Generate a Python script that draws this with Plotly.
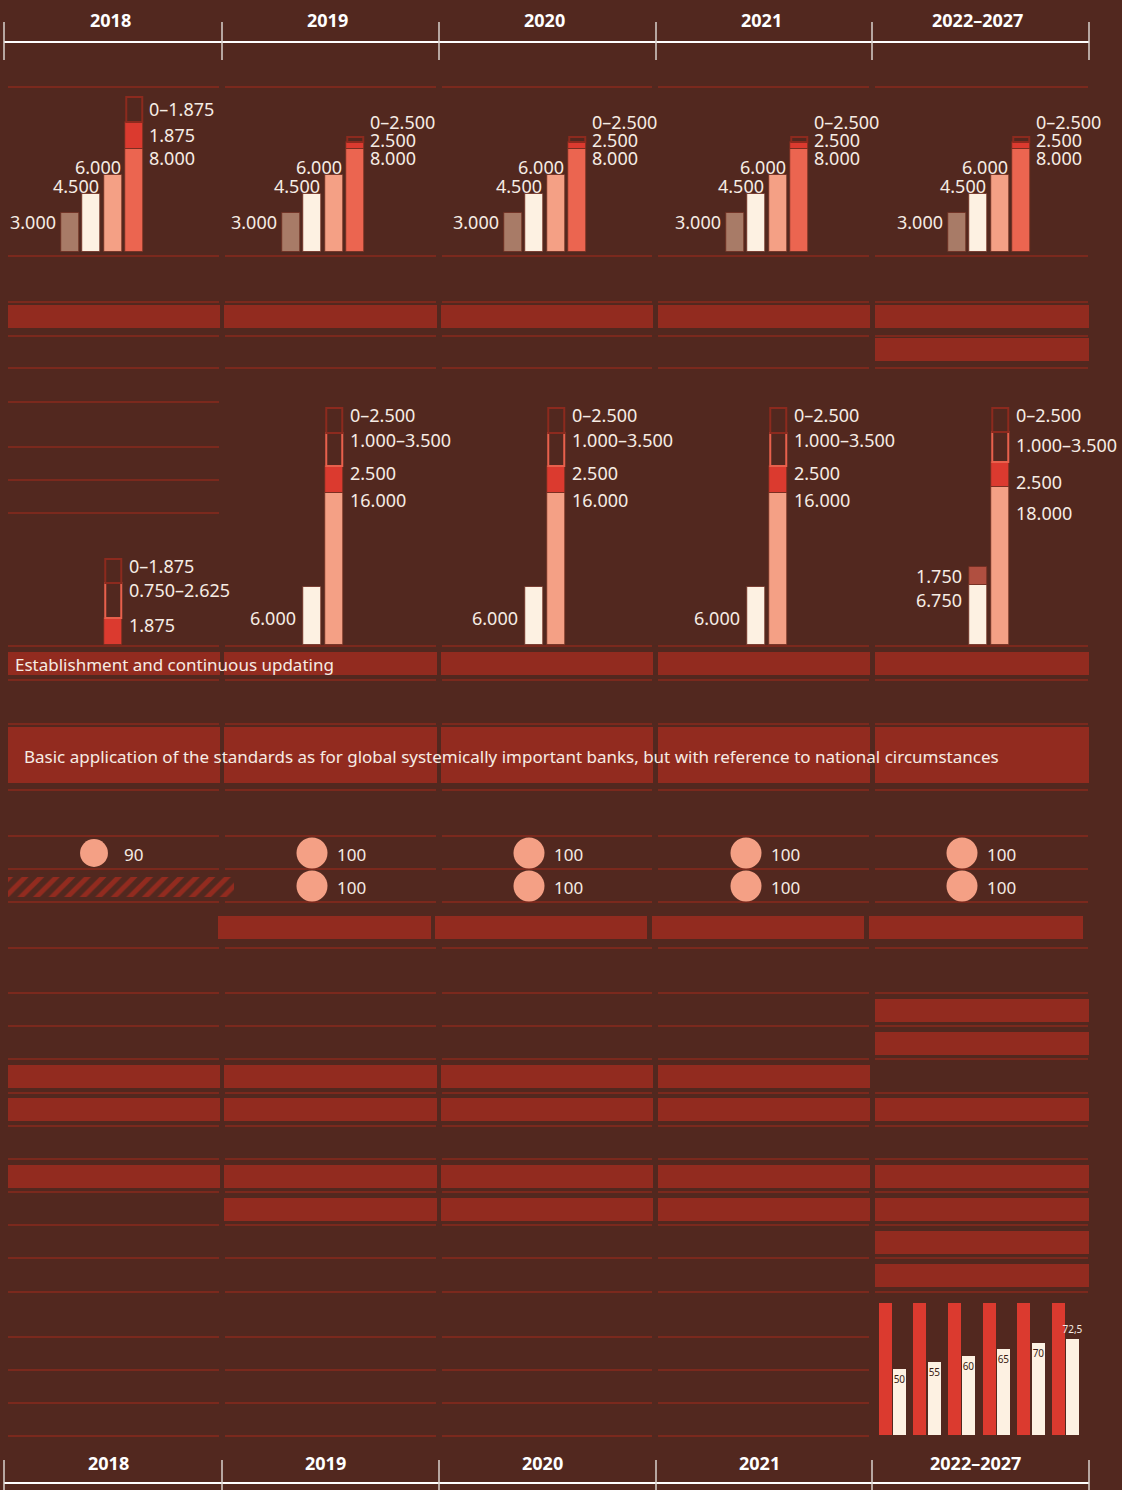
import plotly.graph_objects as go

W, H = 1122, 1490

# ---------------- data ----------------
years = ["2018", "2019", "2020", "2021", "2022–2027"]

# upper block: four base requirements per year (the 4th carries a stacked add-on)
base_values = [3000, 4500, 6000, 8000]
base_labels = ["3.000", "4.500", "6.000", "8.000"]
top_fill = [2100, 500, 500, 500, 500]          # drawn height of filled add-on
top_range = [1950, 450, 450, 450, 450]         # drawn height of open range box
top_fill_labels = ["1.875", "2.500", "2.500", "2.500", "2.500"]
top_range_labels = ["0–1.875", "0–2.500", "0–2.500", "0–2.500", "0–2.500"]

# middle block
mid_white = [None, 6000, 6000, 6000, 6250]
mid_white_labels = [None, "6.000", "6.000", "6.000", "6.750"]
mid_extra = [0, 0, 0, 0, 1900]
mid_extra_labels = [None, None, None, None, "1.750"]
mid_salmon = [0, 15800, 15800, 15800, 16500]
mid_salmon_labels = [None, "16.000", "16.000", "16.000", "18.000"]
mid_red = [2800, 2800, 2800, 2800, 2600]
mid_red_labels = ["1.875", "2.500", "2.500", "2.500", "2.500"]
mid_range_a = [3650, 3450, 3450, 3450, 3100]
mid_range_a_labels = ["0.750–2.625", "1.000–3.500", "1.000–3.500", "1.000–3.500", "1.000–3.500"]
mid_range_b = [2500, 2600, 2600, 2600, 2500]
mid_range_b_labels = ["0–1.875", "0–2.500", "0–2.500", "0–2.500", "0–2.500"]

# circle rows
circles_row1 = [90, 100, 100, 100, 100]
circles_row2 = [None, 100, 100, 100, 100]

# phase-in steps 2022–2027
phase_steps = [0, 1, 2, 3, 4, 5]
phase_full = [100, 100, 100, 100, 100, 100]
phase_values = [50, 55, 60, 65, 70, 72.5]
phase_labels = ["50", "55", "60", "65", "70", "72,5"]

# measure bands: which years each row is active
band_flags = [
    [1, 1, 1, 1, 1],
    [0, 0, 0, 0, 1],
    [1, 1, 1, 1, 1],
    [1, 1, 1, 1, 1],
    [0, 1, 1, 1, 1],
    [0, 0, 0, 0, 1],
    [0, 0, 0, 0, 1],
    [1, 1, 1, 1, 0],
    [1, 1, 1, 1, 1],
    [1, 1, 1, 1, 1],
    [0, 1, 1, 1, 1],
    [0, 0, 0, 0, 1],
    [0, 0, 0, 0, 1],
]
band_texts = {2: "Establishment and continuous updating",
              3: "Basic application of the standards as for global systemically important banks, "
                 "but with reference to national circumstances"}

# ---------------- layout (pixels) ----------------
BG = "#52281F"
GRID = "#8A2A1E"
BAND = "#922B1F"
TAUPE = "#A87B67"
CREAM = "#FDF1E2"
SALMON = "#F4A085"
CORAL = "#EB6550"
RED = "#DB3A2F"
OUT_DARK = "#8C2A1E"
OUT_CORAL = "#E8604C"
BROWN = "#B04F40"
TEXT = "#F6ECE4"
EDGE = "rgba(110,45,32,0.8)"
FONT = "Noto Sans"

col_edges = [4, 222, 439, 656, 872, 1089]
line_spans = [(8, 219), (225, 436), (442, 652), (658, 869), (875, 1088)]
band_spans = [(8, 220), (224, 437), (441, 653), (658, 870), (875, 1089)]
band_rows = [(305, 328), (338, 361), (652, 675), (727, 783), (916, 939), (999, 1022),
             (1032, 1055), (1065, 1088), (1098, 1121), (1165, 1188), (1198, 1221),
             (1231, 1254), (1264, 1287)]
band_shift = {4: -6}
lines_all = [87, 256, 302, 336, 368, 646, 680, 724, 790, 836, 869, 902, 948, 993, 1026,
             1059, 1093, 1126, 1159, 1192, 1225, 1258, 1292]
lines_first = [402, 447, 480, 513]
lines_not_last = [1337, 1370, 1403, 1436]
panel_first = [70, 291, 513, 735, 957]
mid_label_spread = [1.0, 1.0, 1.0, 1.0, 1.25]   # vertical spread of the right-hand labels
PITCH = 21.5
XR = [-2.5, 6.5]
BW = 0.82
OW = 0.73
TOP_BASE, TOP_SCALE, TOP_H = 252, 12.9, 164
MID_BASE, MID_SCALE, MID_H = 645, 9.6, 250
LBL = 18


def px(x):
    return x / W


def py(y):
    return 1 - y / H


fig = go.Figure()
axes = {}


def add_axes(n, x0, x1, xr, y0, y1, yr):
    axes[f"xaxis{n}"] = dict(domain=[px(x0), px(x1)], range=xr, visible=False,
                             anchor=f"y{n}", fixedrange=True)
    axes[f"yaxis{n}"] = dict(domain=[py(y0), py(y1)], range=yr, visible=False,
                             anchor=f"x{n}", fixedrange=True)


annotations = []


def label(text, x, y, xref, yref, anchor, size=LBL, color=TEXT, bold=False):
    annotations.append(dict(text=text, x=x, y=y, xref=xref, yref=yref, xanchor=anchor,
                            yanchor="middle", showarrow=False, borderpad=0,
                            font=dict(family=FONT, size=size, color=color,
                                      weight="bold" if bold else "normal")))


# ---- bands (horizontal bars on the page axis) ----
bx, by, bbase, bwidth = [], [], [], []
for r, flags in enumerate(band_flags):
    top, bot = band_rows[r]
    for i, f in enumerate(flags):
        if f:
            x0, x1 = band_spans[i]
            x0 += band_shift.get(r, 0)
            x1 += band_shift.get(r, 0)
            bx.append(x1 - x0)
            bbase.append(x0)
            by.append((top + bot) / 2)
            bwidth.append(bot - top)
fig.add_trace(go.Bar(x=bx, y=by, base=bbase, width=bwidth, orientation="h",
                     marker=dict(color=BAND, line=dict(width=0)), hoverinfo="skip",
                     xaxis="x", yaxis="y"))
for r, txt in band_texts.items():
    top, bot = band_rows[r]
    label(txt, 14 if r == 2 else 23, (top + bot) / 2 + 1, "x", "y", "left", size=17)

# ---- hatched cell where the second circle row has no value ----
for i, v in enumerate(circles_row2):
    if v is None:
        fig.add_trace(go.Bar(x=[226], y=[887], base=[line_spans[i][0]], width=[20],
                             orientation="h", hoverinfo="skip",
                             marker=dict(color="rgba(0,0,0,0)", line=dict(width=0),
                                         pattern=dict(shape="/", fgcolor=BAND, fgopacity=1,
                                                      bgcolor="rgba(0,0,0,0)",
                                                      fillmode="replace",
                                                      size=11, solidity=0.45)),
                             xaxis="x", yaxis="y"))

# ---- circles ----
for row_vals, yrow in ((circles_row1, 853), (circles_row2, 886)):
    cx = [col_edges[i] + 90 for i, v in enumerate(row_vals) if v is not None]
    vals = [v for v in row_vals if v is not None]
    fig.add_trace(go.Scatter(x=cx, y=[yrow] * len(cx), mode="markers", hoverinfo="skip",
                             marker=dict(size=vals, sizemode="diameter", sizeref=100 / 31,
                                         color=SALMON, opacity=1, line=dict(width=0)),
                             xaxis="x", yaxis="y"))
    for x, v in zip(cx, vals):
        label(str(v), x + 39, yrow + 1, "x", "y", "center", size=17)

# ---- per-year bar panels ----
for i in range(5):
    c0 = panel_first[i]
    x0, x1 = c0 + XR[0] * PITCH, c0 + XR[1] * PITCH
    nt, nm = 2 + i, 7 + i
    add_axes(nt, x0, x1, XR, TOP_BASE, TOP_BASE - TOP_H, [0, TOP_H / TOP_SCALE * 1000])
    add_axes(nm, x0, x1, XR, MID_BASE, MID_BASE - MID_H, [0, MID_H / MID_SCALE * 1000])
    xt, yt = f"x{nt}", f"y{nt}"
    xm, ym = f"x{nm}", f"y{nm}"

    # upper block
    fig.add_trace(go.Bar(x=[0, 1, 2, 3], y=base_values, width=BW, hoverinfo="skip",
                         marker=dict(color=[TAUPE, CREAM, SALMON, CORAL],
                                     line=dict(color=EDGE, width=1)),
                         xaxis=xt, yaxis=yt))
    top = base_values[3]
    fig.add_trace(go.Bar(x=[3], y=[top_fill[i]], base=[top], width=BW, hoverinfo="skip",
                         marker=dict(color=RED, line=dict(color=EDGE, width=1)),
                         xaxis=xt, yaxis=yt))
    fig.add_trace(go.Bar(x=[3], y=[top_range[i]], base=[top + top_fill[i]], width=OW,
                         hoverinfo="skip",
                         marker=dict(color="rgba(0,0,0,0)", line=dict(color=OUT_DARK, width=2)),
                         xaxis=xt, yaxis=yt))
    pu = 1000 / TOP_SCALE
    label(base_labels[0], -0.41 - 4 / PITCH, base_values[0] - 9 * pu, xt, yt, "right")
    label(base_labels[1], 1.41, base_values[1] + 8 * pu, xt, yt, "right")
    label(base_labels[2], 2.41, base_values[2] + 8 * pu, xt, yt, "right")
    rx = 3.41 + 5 / PITCH
    y_base = top - 9 * pu
    y_fill = max(top + top_fill[i] / 2, y_base + 18 * pu)
    y_rng = max(top + top_fill[i] + top_range[i] / 2, y_fill + 18 * pu)
    label(base_labels[3], rx, y_base, xt, yt, "left")
    label(top_fill_labels[i], rx, y_fill, xt, yt, "left")
    label(top_range_labels[i], rx, y_rng, xt, yt, "left")

    # middle block
    mu = 1000 / MID_SCALE
    if mid_white[i] is not None:
        fig.add_trace(go.Bar(x=[1], y=[mid_white[i]], width=BW, hoverinfo="skip",
                             marker=dict(color=CREAM, line=dict(color=EDGE, width=1)),
                             xaxis=xm, yaxis=ym))
        lx = 1 - 0.41 - 7 / PITCH
        if mid_extra[i]:
            fig.add_trace(go.Bar(x=[1], y=[mid_extra[i]], base=[mid_white[i]], width=BW,
                                 hoverinfo="skip",
                                 marker=dict(color=BROWN, line=dict(color=EDGE, width=1)),
                                 xaxis=xm, yaxis=ym))
            ye = mid_white[i] + mid_extra[i] / 2
            label(mid_extra_labels[i], lx, ye, xm, ym, "right")
            label(mid_white_labels[i], lx, ye - 24 * mu, xm, ym, "right")
        else:
            label(mid_white_labels[i], lx, mid_white[i] - 31 * mu, xm, ym, "right")

    rx = 2.41 + 6 / PITCH
    # label anchors: top of each segment, optionally spread downward from the stack top
    segs = []
    level = 0
    if mid_salmon[i]:
        fig.add_trace(go.Bar(x=[2], y=[mid_salmon[i]], width=BW, hoverinfo="skip",
                             marker=dict(color=SALMON, line=dict(color=EDGE, width=1)),
                             xaxis=xm, yaxis=ym))
        level = mid_salmon[i]
        segs.append((mid_salmon_labels[i], level))
    fig.add_trace(go.Bar(x=[2], y=[mid_red[i]], base=[level], width=BW, hoverinfo="skip",
                         marker=dict(color=RED, line=dict(color=EDGE, width=1)),
                         xaxis=xm, yaxis=ym))
    level += mid_red[i]
    segs.append((mid_red_labels[i], level))
    fig.add_trace(go.Bar(x=[2], y=[mid_range_a[i]], base=[level], width=OW, hoverinfo="skip",
                         marker=dict(color="rgba(0,0,0,0)", line=dict(color=OUT_CORAL, width=2)),
                         xaxis=xm, yaxis=ym))
    level += mid_range_a[i]
    segs.append((mid_range_a_labels[i], level))
    fig.add_trace(go.Bar(x=[2], y=[mid_range_b[i]], base=[level], width=OW, hoverinfo="skip",
                         marker=dict(color="rgba(0,0,0,0)", line=dict(color=OUT_DARK, width=2)),
                         xaxis=xm, yaxis=ym))
    level += mid_range_b[i]
    segs.append((mid_range_b_labels[i], level))
    stack_top = level
    for txt, seg_top in segs:
        y_lab = stack_top - (stack_top - seg_top) * mid_label_spread[i] - 7 * mu
        label(txt, rx, y_lab, xm, ym, "left")

# ---- phase-in panel (2022–2027) ----
add_axes(12, 875, 1083, [-0.5, 5.5], 1435, 1295, [0, 140 / 132 * 100])
fig.add_trace(go.Bar(x=phase_steps, y=phase_full, offset=-0.39, width=0.375, hoverinfo="skip",
                     marker=dict(color=RED, line=dict(width=0)), xaxis="x12", yaxis="y12"))
fig.add_trace(go.Bar(x=phase_steps, y=phase_values, offset=0.015, width=0.375, hoverinfo="skip",
                     marker=dict(color=CREAM, line=dict(width=0)),
                     text=phase_labels, textangle=0, constraintext="none",
                     textposition=["inside"] * 5 + ["outside"], insidetextanchor="end",
                     textfont=dict(family=FONT, size=10, color=["#3A1C14"] * 5 + [TEXT]),
                     cliponaxis=False, xaxis="x12", yaxis="y12"))

# ---- grid lines ----
shapes = []
for y in lines_all:
    for (a, b) in line_spans:
        shapes.append(dict(type="line", x0=a, x1=b, y0=y, y1=y, xref="x", yref="y",
                           line=dict(color=GRID, width=1.5), layer="below"))
for y in lines_first:
    a, b = line_spans[0]
    shapes.append(dict(type="line", x0=a, x1=b, y0=y, y1=y, xref="x", yref="y",
                       line=dict(color=GRID, width=1.5), layer="below"))
for y in lines_not_last:
    for (a, b) in line_spans[:4]:
        shapes.append(dict(type="line", x0=a, x1=b, y0=y, y1=y, xref="x", yref="y",
                           line=dict(color=GRID, width=1.5), layer="below"))

# ---- year headers (top and bottom) ----
for ly, t0, t1, lab_y, shift in ((42, 22, 60, 20, -3), (1483, 1460, 1490, 1463, -5)):
    shapes.append(dict(type="line", x0=col_edges[0], x1=col_edges[-1], y0=ly, y1=ly,
                       xref="x", yref="y", line=dict(color="#FFFFFF", width=2)))
    for e in col_edges:
        shapes.append(dict(type="line", x0=e, x1=e, y0=t0, y1=t1, xref="x", yref="y",
                           line=dict(color="#D8D0CC", width=1.5)))
    for i, yr in enumerate(years):
        cx = (col_edges[i] + col_edges[i + 1]) / 2 + shift
        label(yr, cx, lab_y, "x", "y", "center", size=18, color="#FFFFFF", bold=True)

fig.update_layout(
    width=W, height=H, margin=dict(l=0, r=0, t=0, b=0),
    paper_bgcolor=BG, plot_bgcolor="rgba(0,0,0,0)",
    barmode="overlay", bargap=0, showlegend=False,
    xaxis=dict(domain=[0, 1], range=[0, W], visible=False, fixedrange=True),
    yaxis=dict(domain=[0, 1], range=[H, 0], visible=False, fixedrange=True),
    shapes=shapes, annotations=annotations,
    font=dict(family=FONT, color=TEXT),
    **axes,
)

fig.write_html("out.html", config={"displayModeBar": False},
               post_script="document.body.style.margin='0';"
                           "document.body.style.background='" + BG + "';")
